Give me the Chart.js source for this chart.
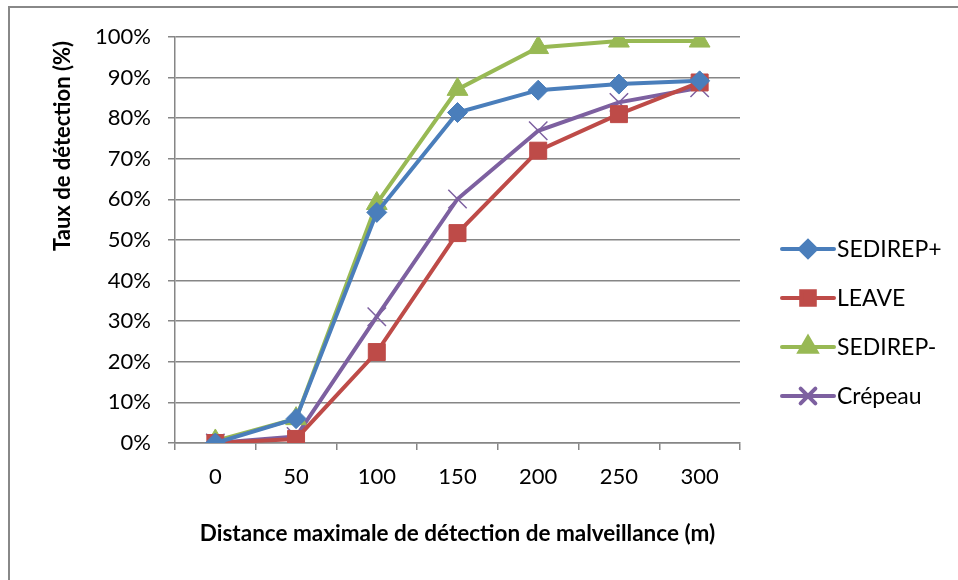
<!DOCTYPE html>
<html>
<head>
<meta charset="utf-8">
<script src="https://cdn.jsdelivr.net/npm/chart.js@4/dist/chart.umd.min.js"></script>
<style>
  html, body { margin: 0; padding: 0; background: #fff; }
  #wrap { width: 958px; height: 580px; }
</style>
</head>
<body>
<div id="wrap"><canvas id="graf" width="958" height="580"></canvas></div>
<script>
const distances = ["0", "50", "100", "150", "200", "250", "300"];
const sedirepPlus = [0, 6, 56.8, 81.4, 86.9, 88.4, 89.2];
const leave = [0, 1, 22.4, 51.7, 72, 81, 88.8];
const sedirepMoins = [0.5, 6, 59, 87.1, 97.4, 99, 99];
const crepeau = [0, 1.6, 31.1, 60.1, 76.9, 83.9, 87.5];
const yTicks = [0, 10, 20, 30, 40, 50, 60, 70, 80, 90, 100];

const police = "Lato, 'Noto Sans', sans-serif";
const gris = "#868686";

const series = [
  { label: "SEDIREP+", data: sedirepPlus, color: "#4A7EBB", style: "rectRot", r: 10, bw: 1 },
  { label: "LEAVE", data: leave, color: "#BE4B48", style: "rect", r: 12, bw: 1 },
  { label: "SEDIREP-", data: sedirepMoins, color: "#98B954", style: "triangle", r: 12, bw: 1 },
  { label: "Crépeau", data: crepeau, color: "#7D60A0", style: "crossRot", r: 13, bw: 1.5 }
];

// cadre gris (haut et gauche seulement)
const cadre = {
  id: "cadre",
  afterDraw(chart) {
    const ctx = chart.ctx;
    ctx.save();
    ctx.fillStyle = "#888888";
    ctx.fillRect(8, 6, 950, 2);
    ctx.fillRect(8, 6, 2, 574);
    ctx.restore();
  }
};

// titre vertical, placé comme dans Excel
const titreY = {
  id: "titreY",
  afterDraw(chart) {
    const ctx = chart.ctx;
    ctx.save();
    ctx.translate(63, 146);
    ctx.rotate(-Math.PI / 2);
    ctx.font = "bold 22px " + police;
    ctx.fillStyle = "#000";
    ctx.textAlign = "center";
    ctx.textBaseline = "middle";
    ctx.fillText("Taux de détection (%)", 0, 0);
    ctx.restore();
  }
};

// légende avec trait + marqueur
const legende = {
  id: "legende",
  afterDraw(chart) {
    const ctx = chart.ctx;
    ctx.save();
    series.forEach((s, i) => {
      const y = 249 + i * 49;
      ctx.strokeStyle = s.color;
      ctx.lineWidth = 4;
      ctx.lineCap = "round";
      ctx.beginPath();
      ctx.moveTo(782, y);
      ctx.lineTo(834, y);
      ctx.stroke();
      ctx.fillStyle = s.color;
      Chart.helpers.drawPoint(ctx, {
        pointStyle: s.style,
        radius: s.r * 0.8,
        borderWidth: s.bw,
        rotation: 0
      }, 808, y);
      ctx.fillStyle = "#000";
      ctx.font = "23px " + police;
      ctx.textBaseline = "middle";
      ctx.textAlign = "left";
      ctx.fillText(s.label, 837, y + 1);
    });
    ctx.restore();
  }
};

new Chart(document.getElementById("graf"), {
  type: "line",
  data: {
    labels: distances,
    datasets: series.map(s => ({
      label: s.label,
      data: s.data,
      borderColor: s.color,
      backgroundColor: s.color,
      borderWidth: 4,
      pointStyle: s.style,
      pointRadius: s.r,
      pointHoverRadius: s.r,
      pointBorderWidth: s.bw,
      pointBackgroundColor: s.color,
      pointBorderColor: s.color,
      tension: 0
    }))
  },
  options: {
    responsive: false,
    animation: false,
    events: [],
    layout: { padding: { left: 95, right: 218, top: 37, bottom: 10 } },
    plugins: {
      legend: { display: false },
      tooltip: { enabled: false }
    },
    scales: {
      x: {
        offset: true,
        grid: { offset: true, drawOnChartArea: false, drawTicks: true, tickLength: 7, color: gris, lineWidth: 1.5 },
        border: { color: gris, width: 1.5 },
        ticks: { color: "#000", font: { family: police, size: 22 }, padding: 14 },
        title: {
          display: true,
          text: "Distance maximale de détection de malveillance (m)",
          color: "#000",
          font: { family: police, size: 22.5, weight: "bold" },
          padding: { top: 8, bottom: 23 }
        },
        afterFit(s) { s.height = 127; }
      },
      y: {
        min: 0,
        max: 100,
        afterBuildTicks(s) { s.ticks = yTicks.map(v => ({ value: v })); },
        grid: { color: gris, lineWidth: 1.5, tickLength: 7 },
        border: { color: gris, width: 1.5 },
        ticks: { color: "#000", font: { family: police, size: 22 }, padding: 17, callback: v => v + "%" },
        afterFit(s) { s.width = 80; }
      }
    }
  },
  plugins: [cadre, titreY, legende]
});
</script>
</body>
</html>
